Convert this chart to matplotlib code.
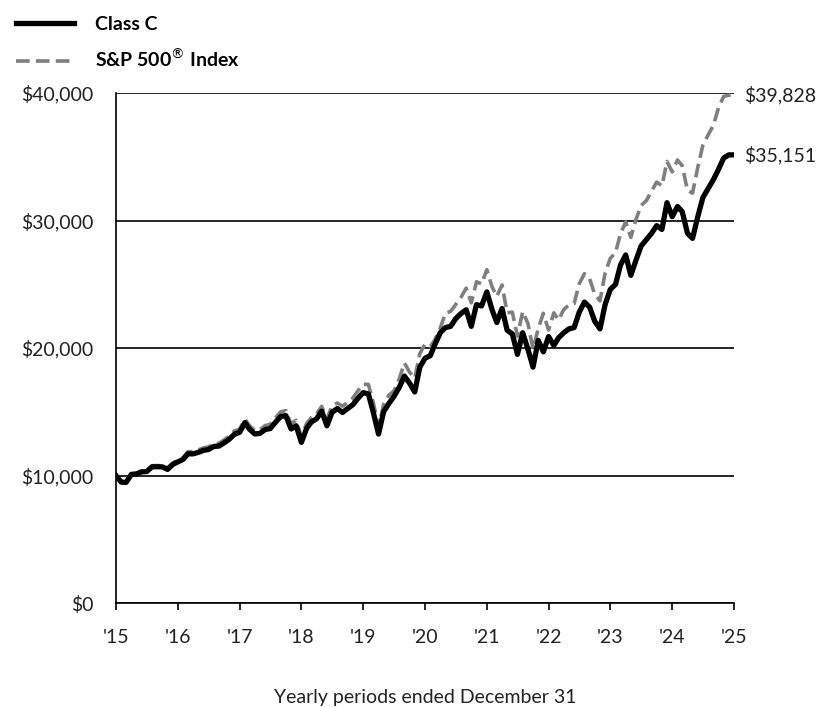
import pandas as pd
import matplotlib.pyplot as plt
from matplotlib.ticker import FuncFormatter

plt.rcParams['font.family'] = ['Lato', 'DejaVu Sans']

# month-end values, Dec 2015 .. Dec 2025 (growth of $10,000)
dates = pd.date_range('2015-12-31', '2025-12-31', freq='ME')

class_c = [
    10000,
    9480, 9460, 10090, 10120, 10290, 10310, 10680, 10690, 10680, 10480, 10860, 11070,
    11260, 11700, 11700, 11810, 11970, 12040, 12280, 12310, 12560, 12850, 13240, 13390,
    14150, 13620, 13260, 13300, 13610, 13680, 14180, 14630, 14700, 13650, 13900, 12600,
    13700, 14200, 14450, 15050, 13900, 14950, 15250, 14950, 15250, 15550, 16050, 16500,
    16400, 14950, 13250, 15000, 15650, 16200, 16900, 17800, 17250, 16550, 18500, 19200,
    19400, 20300, 21200, 21600, 21700, 22300, 22700, 23000, 21700, 23400, 23300, 24400,
    23000, 22000, 23100, 21400, 21100, 19500, 21200, 19900, 18500, 20600, 19700, 20900,
    20200, 20800, 21200, 21500, 21600, 22800, 23600, 23200, 22100, 21500, 23400, 24600,
    25000, 26500, 27300, 25700, 26900, 28000, 28500, 29000, 29600, 29300, 31400, 30300,
    31100, 30700, 29000, 28600, 30300, 31800, 32500, 33200, 34000, 34900, 35150, 35151,
]

sp500 = [
    10000,
    9504, 9492, 10135, 10175, 10358, 10385, 10768, 10783, 10785, 10589, 10981, 11198,
    11411, 11864, 11878, 12000, 12169, 12244, 12496, 12535, 12793, 13091, 13493, 13643,
    14425, 13893, 13540, 13591, 13919, 14005, 14526, 14999, 15085, 14053, 14340, 13045,
    14090, 14542, 14824, 15425, 14445, 15463, 15686, 15438, 15726, 16068, 16651, 17154,
    17147, 15736, 13793, 15561, 16302, 16626, 17564, 18827, 18111, 17629, 19560, 20311,
    20106, 20661, 21566, 22718, 22877, 23410, 23967, 24696, 23547, 25198, 25024, 26145,
    24793, 24052, 24944, 22769, 22810, 20928, 22858, 21925, 19906, 21518, 22721, 21412,
    22757, 22202, 23017, 23376, 23476, 25028, 25831, 25420, 24208, 23700, 25864, 27038,
    27492, 28960, 29893, 28673, 30095, 31176, 31556, 32323, 33015, 32714, 34634, 33810,
    34750, 34298, 32367, 32147, 34169, 35908, 36713, 37458, 38825, 39733, 39832, 39828,
]

year_ends = pd.date_range('2015-12-31', '2025-12-31', freq='YE')
year_labels = ["'" + str(d.year)[2:] for d in year_ends]

fig = plt.figure(figsize=(8.19, 7.08), dpi=100)
ax = fig.add_axes([0.1416, 0.1483, 0.7546, 0.7203])

ax.plot(dates, sp500, color='#7f7f7f', lw=2.6, dashes=(3.8, 1.7), zorder=3,
        label='S&P 500$^{®}$ Index')
ax.plot(dates, class_c, color='black', lw=3.8, zorder=4, label='Class C')

ax.set_xlim(dates[0], dates[-1])
ax.set_ylim(0, 40000)
ax.set_yticks([0, 10000, 20000, 30000, 40000])
ax.yaxis.set_major_formatter(FuncFormatter(lambda v, p: '\\$' + f'{int(v):,}'))
ax.set_xticks(year_ends)
ax.set_xticklabels(year_labels)

ax.grid(axis='y', color='black', lw=1.2)
ax.set_axisbelow(True)
for s in ['top', 'right']:
    ax.spines[s].set_visible(False)
ax.spines['left'].set_linewidth(1.2)
ax.spines['bottom'].set_linewidth(1.2)
ax.tick_params(axis='y', length=0, pad=16, labelsize=14, labelcolor='#222222')
ax.tick_params(axis='x', length=5, width=1.2, pad=14, labelsize=14, labelcolor='#222222')

# end-of-period value labels
for vals in [sp500, class_c]:
    ax.annotate('\\$' + f'{vals[-1]:,}', (dates[-1], vals[-1]), xytext=(7, 0),
                textcoords='offset points', va='center', ha='left',
                fontsize=14, color='#222222', annotation_clip=False)

ax.set_xlabel('Yearly periods ended December 31', fontsize=14, color='#222222',
              labelpad=31)

h, l = ax.get_legend_handles_labels()
fig.legend(h[::-1], l[::-1], loc='upper left', bbox_to_anchor=(0.0, 1.0),
           frameon=False, borderaxespad=0.5, borderpad=0.3,
           handlelength=3.0, handletextpad=1.1,
           labelspacing=0.8, prop={'weight': 'bold', 'size': 14})

fig.savefig('out.png', dpi=100)
